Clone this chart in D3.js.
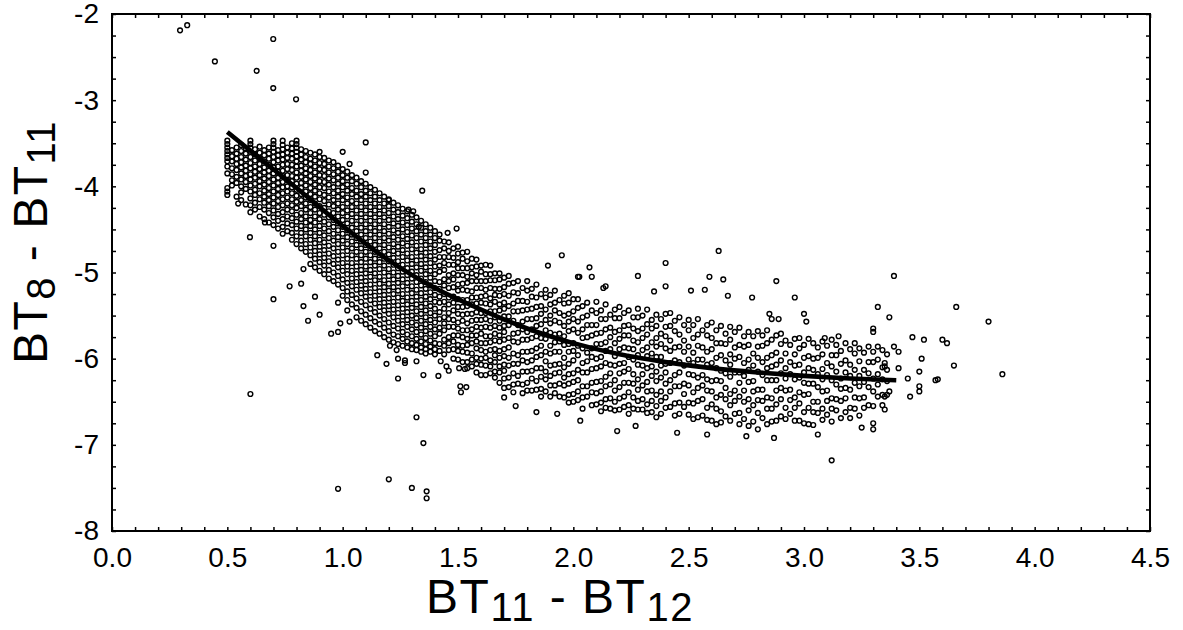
<!DOCTYPE html>
<meta charset="utf-8">
<style>
body { margin: 0; background: #fff; }
svg text { font-family: "Liberation Sans", Arial, sans-serif; fill: #000; }
.frame { fill: none; stroke: #000; stroke-width: 2; }
.tick line { stroke: #000; stroke-width: 1.5; }
.domain { display: none; }
.pt { fill: none; stroke: #000; stroke-width: 1.4; }
.fit { fill: none; stroke: #000; stroke-width: 4.6; stroke-linecap: butt; }
</style>
<svg width="1183" height="630"></svg>
<script src="https://cdn.jsdelivr.net/npm/d3@7"></script>
<script>

// axis ticks
var xMajor = [0, 0.5, 1.0, 1.5, 2.0, 2.5, 3.0, 3.5, 4.0, 4.5];
var yMajor = [-2, -3, -4, -5, -6, -7, -8];

// fitted curve
var fitX = [0.50, 0.80, 1.00, 1.20, 1.40, 1.60, 1.80, 2.00, 2.20, 2.40, 2.60, 2.80, 3.00, 3.20, 3.40];
var fitY = [-3.37, -4.02, -4.46, -4.86, -5.18, -5.43, -5.65, -5.82, -5.95, -6.04, -6.11, -6.16, -6.20, -6.23, -6.25];

// scatter, read column by column: [x, [y values]]
var bandA = [
  [0.50, [-3.47,-3.51,-3.55,-3.59,-3.63,-3.67,-3.71,-3.77,-3.85,-4.02,-4.06,-4.10]],
  [0.52, [-3.58,-3.65,-3.71,-3.79,-3.86,-3.93,-3.99]],
  [0.54, [-3.55,-3.62,-3.68,-3.74,-3.81,-3.89,-3.96,-4.12]],
  [0.56, [-3.52,-3.59,-3.66,-3.72,-3.78,-3.85,-3.92,-4.00,-4.07,-4.16]],
  [0.58, [-3.56,-3.62,-3.69,-3.76,-3.82,-3.88,-3.95,-4.03,-4.21]],
  [0.60, [-3.47,-3.51,-3.55,-3.60,-3.66,-3.73,-3.79,-3.86,-3.92,-3.99,-4.06,-4.14,-4.22,-4.30]],
  [0.62, [-3.57,-3.63,-3.70,-3.77,-3.83,-3.90,-3.97,-4.04,-4.10,-4.19,-4.27]],
  [0.64, [-3.54,-3.61,-3.67,-3.74,-3.80,-3.87,-3.94,-4.00,-4.08,-4.15,-4.24,-4.35]],
  [0.66, [-3.58,-3.64,-3.71,-3.78,-3.84,-3.91,-3.98,-4.05,-4.12,-4.19,-4.27,-4.38]],
  [0.68, [-3.55,-3.62,-3.68,-3.75,-3.82,-3.88,-3.95,-4.02,-4.09,-4.16,-4.23,-4.31,-4.42]],
  [0.70, [-3.47,-3.51,-3.55,-3.60,-3.66,-3.72,-3.78,-3.85,-3.92,-3.99,-4.06,-4.13,-4.20,-4.28,-4.36,-4.45]],
  [0.72, [-3.58,-3.64,-3.70,-3.77,-3.83,-3.90,-3.96,-4.03,-4.10,-4.17,-4.24,-4.32,-4.40,-4.49]],
  [0.74, [-3.47,-3.52,-3.57,-3.63,-3.69,-3.75,-3.82,-3.88,-3.95,-4.01,-4.08,-4.15,-4.22,-4.30,-4.38,-4.47,-4.55]],
  [0.76, [-3.55,-3.61,-3.67,-3.74,-3.80,-3.87,-3.93,-4.00,-4.06,-4.13,-4.20,-4.27,-4.35,-4.43,-4.52]],
  [0.78, [-3.50,-3.56,-3.62,-3.68,-3.75,-3.81,-3.88,-3.94,-4.01,-4.08,-4.15,-4.22,-4.29,-4.37,-4.45,-4.54,-4.62]],
  [0.80, [-3.47,-3.51,-3.55,-3.60,-3.65,-3.71,-3.77,-3.84,-3.90,-3.97,-4.04,-4.11,-4.18,-4.25,-4.33,-4.41,-4.49,-4.58,-4.67]],
  [0.82, [-3.57,-3.63,-3.69,-3.76,-3.82,-3.89,-3.96,-4.02,-4.09,-4.16,-4.23,-4.31,-4.38,-4.46,-4.54,-4.63,-4.72]],
  [0.84, [-3.59,-3.66,-3.72,-3.79,-3.85,-3.92,-3.99,-4.06,-4.13,-4.20,-4.27,-4.35,-4.42,-4.50,-4.58,-4.67,-4.76]],
  [0.86, [-3.61,-3.68,-3.74,-3.81,-3.88,-3.95,-4.02,-4.09,-4.16,-4.24,-4.31,-4.39,-4.46,-4.54,-4.62,-4.71,-4.80,-4.90]],
  [0.88, [-3.63,-3.70,-3.77,-3.84,-3.91,-3.98,-4.05,-4.12,-4.20,-4.27,-4.35,-4.42,-4.50,-4.58,-4.66,-4.75,-4.84,-4.94]],
  [0.90, [-3.60,-3.66,-3.73,-3.80,-3.87,-3.94,-4.01,-4.08,-4.15,-4.23,-4.31,-4.38,-4.46,-4.54,-4.62,-4.70,-4.79,-4.88,-4.98]],
  [0.92, [-3.67,-3.74,-3.81,-3.88,-3.95,-4.02,-4.10,-4.17,-4.25,-4.33,-4.41,-4.49,-4.57,-4.65,-4.74,-4.83,-4.92,-5.02]],
  [0.94, [-3.70,-3.77,-3.84,-3.91,-3.98,-4.06,-4.13,-4.21,-4.29,-4.36,-4.44,-4.52,-4.60,-4.69,-4.78,-4.87,-4.97,-5.07]],
  [0.96, [-3.72,-3.79,-3.86,-3.93,-4.01,-4.08,-4.16,-4.23,-4.31,-4.39,-4.47,-4.55,-4.63,-4.72,-4.81,-4.90,-5.00,-5.10]],
  [0.98, [-3.76,-3.83,-3.90,-3.97,-4.05,-4.12,-4.20,-4.27,-4.35,-4.43,-4.51,-4.59,-4.67,-4.76,-4.85,-4.94,-5.04,-5.14]]
];

var bandB = [
  [1.00, [-3.80,-3.87,-3.94,-4.01,-4.09,-4.16,-4.24,-4.31,-4.39,-4.47,-4.55,-4.63,-4.71,-4.80,-4.89,-4.98,-5.08,-5.18,-5.27]],
  [1.02, [-3.83,-3.90,-3.98,-4.05,-4.13,-4.20,-4.28,-4.35,-4.43,-4.51,-4.59,-4.67,-4.75,-4.84,-4.93,-5.02,-5.12,-5.22,-5.32]],
  [1.04, [-3.87,-3.94,-4.02,-4.09,-4.17,-4.24,-4.32,-4.40,-4.48,-4.56,-4.64,-4.72,-4.80,-4.89,-4.98,-5.07,-5.16,-5.26,-5.37]],
  [1.06, [-3.90,-3.97,-4.05,-4.12,-4.20,-4.28,-4.36,-4.44,-4.52,-4.60,-4.68,-4.76,-4.84,-4.93,-5.02,-5.11,-5.20,-5.30,-5.41,-5.52]],
  [1.08, [-3.94,-4.01,-4.09,-4.16,-4.24,-4.32,-4.40,-4.48,-4.56,-4.64,-4.72,-4.80,-4.88,-4.97,-5.06,-5.15,-5.24,-5.34,-5.45,-5.56]],
  [1.10, [-3.97,-4.05,-4.12,-4.20,-4.28,-4.36,-4.44,-4.52,-4.60,-4.68,-4.76,-4.84,-4.93,-5.01,-5.10,-5.19,-5.28,-5.38,-5.49,-5.60]],
  [1.12, [-4.01,-4.08,-4.16,-4.24,-4.32,-4.40,-4.48,-4.56,-4.64,-4.72,-4.80,-4.88,-4.97,-5.05,-5.14,-5.23,-5.32,-5.42,-5.53,-5.64]],
  [1.14, [-4.04,-4.12,-4.20,-4.28,-4.36,-4.44,-4.52,-4.60,-4.68,-4.76,-4.84,-4.92,-5.01,-5.09,-5.18,-5.27,-5.36,-5.46,-5.57,-5.68]],
  [1.16, [-4.08,-4.16,-4.24,-4.32,-4.40,-4.48,-4.56,-4.64,-4.72,-4.80,-4.88,-4.96,-5.05,-5.13,-5.22,-5.31,-5.40,-5.50,-5.60,-5.71]],
  [1.18, [-4.12,-4.20,-4.28,-4.36,-4.44,-4.52,-4.60,-4.68,-4.76,-4.84,-4.92,-5.00,-5.09,-5.17,-5.26,-5.35,-5.44,-5.54,-5.64,-5.75]],
  [1.20, [-4.15,-4.23,-4.31,-4.39,-4.47,-4.55,-4.63,-4.71,-4.79,-4.87,-4.96,-5.04,-5.13,-5.21,-5.30,-5.39,-5.48,-5.58,-5.68,-5.78]],
  [1.22, [-4.19,-4.27,-4.35,-4.43,-4.51,-4.59,-4.67,-4.75,-4.83,-4.91,-5.00,-5.08,-5.17,-5.25,-5.34,-5.43,-5.52,-5.62,-5.72,-5.81]],
  [1.24, [-4.22,-4.30,-4.38,-4.46,-4.54,-4.62,-4.70,-4.78,-4.87,-4.95,-5.04,-5.12,-5.21,-5.29,-5.38,-5.47,-5.56,-5.65,-5.74,-5.83]],
  [1.26, [-4.26,-4.34,-4.42,-4.50,-4.58,-4.66,-4.74,-4.82,-4.91,-4.99,-5.08,-5.16,-5.25,-5.33,-5.42,-5.51,-5.60,-5.69,-5.77,-5.85]],
  [1.28, [-4.29,-4.37,-4.45,-4.53,-4.61,-4.69,-4.78,-4.86,-4.95,-5.03,-5.12,-5.20,-5.29,-5.37,-5.46,-5.55,-5.63,-5.72,-5.80,-5.87]],
  [1.30, [-4.33,-4.41,-4.49,-4.57,-4.65,-4.73,-4.82,-4.90,-4.99,-5.07,-5.16,-5.24,-5.33,-5.41,-5.50,-5.58,-5.66,-5.74,-5.82,-5.89]],
  [1.32, [-4.36,-4.44,-4.52,-4.60,-4.69,-4.77,-4.86,-4.94,-5.03,-5.11,-5.20,-5.28,-5.37,-5.45,-5.53,-5.61,-5.69,-5.77,-5.84,-5.90]],
  [1.34, [-4.40,-4.48,-4.56,-4.64,-4.73,-4.81,-4.90,-4.98,-5.07,-5.15,-5.24,-5.32,-5.40,-5.48,-5.56,-5.64,-5.72,-5.80,-5.87,-5.92]],
  [1.36, [-4.44,-4.52,-4.60,-4.68,-4.77,-4.85,-4.94,-5.02,-5.11,-5.19,-5.28,-5.36,-5.44,-5.52,-5.60,-5.68,-5.76,-5.83,-5.89,-5.94]],
  [1.38, [-4.48,-4.56,-4.64,-4.72,-4.81,-4.89,-4.98,-5.06,-5.15,-5.23,-5.31,-5.39,-5.47,-5.55,-5.63,-5.71,-5.79,-5.86,-5.92]],
  [1.40, [-4.52,-4.60,-4.68,-4.76,-4.85,-4.93,-5.02,-5.10,-5.18,-5.26,-5.34,-5.42,-5.50,-5.58,-5.66,-5.74,-5.82,-5.89,-5.95]]
];

var bandC = [
  [1.42, [-4.56,-4.63,-4.74,-4.82,-4.92,-4.99,-5.11,-5.19,-5.28,-5.35,-5.46,-5.54,-5.64,-5.71,-5.83,-5.91]],
  [1.44, [-4.64,-4.72,-4.82,-4.89,-4.97,-5.08,-5.15,-5.25,-5.34,-5.42,-5.52,-5.59,-5.67,-5.78,-5.85,-5.95]],
  [1.46, [-4.65,-4.75,-4.82,-4.91,-5.03,-5.10,-5.18,-5.29,-5.37,-5.47,-5.54,-5.63,-5.75,-5.82,-5.90]],
  [1.48, [-4.72,-4.83,-4.91,-5.01,-5.08,-5.17,-5.28,-5.35,-5.44,-5.55,-5.63,-5.73,-5.80,-5.89,-6.00]],
  [1.50, [-4.70,-4.78,-4.88,-4.95,-5.03,-5.14,-5.21,-5.31,-5.40,-5.48,-5.58,-5.65,-5.73,-5.84,-5.91,-6.01]],
  [1.52, [-4.77,-4.84,-4.95,-5.03,-5.13,-5.20,-5.32,-5.40,-5.49,-5.56,-5.67,-5.75,-5.85,-5.92,-6.04]],
  [1.54, [-4.76,-4.87,-4.95,-5.05,-5.12,-5.21,-5.32,-5.39,-5.48,-5.59,-5.67,-5.77,-5.84,-5.93,-6.04,-6.11]],
  [1.56, [-4.84,-4.94,-5.01,-5.10,-5.22,-5.29,-5.37,-5.48,-5.56,-5.66,-5.73,-5.82,-5.94,-6.01,-6.09]],
  [1.58, [-4.85,-4.93,-5.03,-5.10,-5.18,-5.29,-5.36,-5.46,-5.55,-5.63,-5.73,-5.80,-5.88,-5.99,-6.06,-6.16]],
  [1.60, [-4.92,-4.99,-5.10,-5.18,-5.28,-5.35,-5.47,-5.55,-5.64,-5.71,-5.82,-5.90,-6.00,-6.07,-6.19]],
  [1.62, [-4.91,-5.02,-5.10,-5.20,-5.27,-5.36,-5.47,-5.54,-5.63,-5.74,-5.82,-5.92,-5.99,-6.08,-6.19]],
  [1.64, [-4.92,-5.02,-5.09,-5.18,-5.30,-5.37,-5.45,-5.56,-5.64,-5.74,-5.81,-5.90,-6.02,-6.09,-6.17]],
  [1.66, [-5.01,-5.09,-5.19,-5.26,-5.34,-5.45,-5.52,-5.62,-5.71,-5.79,-5.89,-5.96,-6.04,-6.15,-6.22]],
  [1.68, [-5.01,-5.08,-5.19,-5.27,-5.37,-5.44,-5.56,-5.64,-5.73,-5.80,-5.91,-5.99,-6.09,-6.16,-6.28]],
  [1.70, [-5.06,-5.17,-5.25,-5.35,-5.42,-5.51,-5.62,-5.69,-5.78,-5.89,-5.97,-6.07,-6.14,-6.23,-6.34]],
  [1.72, [-5.04,-5.13,-5.27,-5.39,-5.51,-5.61,-5.76,-5.87,-5.99,-6.08,-6.22,-6.33]],
  [1.74, [-5.12,-5.23,-5.36,-5.45,-5.56,-5.71,-5.80,-5.94,-6.06,-6.17,-6.30,-6.39]],
  [1.76, [-5.10,-5.24,-5.33,-5.45,-5.61,-5.70,-5.81,-5.96,-6.06,-6.20,-6.29]],
  [1.78, [-5.18,-5.33,-5.44,-5.57,-5.66,-5.78,-5.92,-6.02,-6.15,-6.30,-6.40]],
  [1.80, [-5.10,-5.21,-5.34,-5.43,-5.54,-5.69,-5.78,-5.92,-6.04,-6.15,-6.28,-6.37]],
  [1.82, [-5.19,-5.28,-5.42,-5.54,-5.66,-5.76,-5.91,-6.02,-6.14,-6.23,-6.37]],
  [1.84, [-5.14,-5.29,-5.40,-5.53,-5.62,-5.74,-5.88,-5.98,-6.11,-6.26,-6.36]],
  [1.86, [-5.25,-5.39,-5.48,-5.60,-5.76,-5.85,-5.96,-6.11,-6.21,-6.35,-6.44]],
  [1.88, [-5.20,-5.29,-5.43,-5.55,-5.67,-5.77,-5.92,-6.03,-6.15,-6.24,-6.38]],
  [1.90, [-5.26,-5.37,-5.50,-5.59,-5.70,-5.85,-5.94,-6.08,-6.20,-6.31,-6.44]],
  [1.92, [-5.21,-5.35,-5.44,-5.56,-5.72,-5.81,-5.92,-6.07,-6.17,-6.31,-6.40]],
  [1.94, [-5.32,-5.47,-5.58,-5.71,-5.80,-5.92,-6.06,-6.16,-6.29,-6.44]],
  [1.96, [-5.27,-5.36,-5.50,-5.62,-5.74,-5.84,-5.99,-6.10,-6.22,-6.31,-6.45]],
  [1.98, [-5.24,-5.35,-5.48,-5.57,-5.68,-5.83,-5.92,-6.06,-6.18,-6.29,-6.42,-6.51]],
  [2.00, [-5.31,-5.45,-5.54,-5.66,-5.82,-5.91,-6.02,-6.17,-6.27,-6.41,-6.50]]
];

var bandD = [
  [2.02, [-5.31,-5.41,-5.57,-5.70,-5.85,-5.96,-6.13,-6.25,-6.38,-6.48]],
  [2.04, [-5.39,-5.52,-5.66,-5.76,-5.88,-6.05,-6.16,-6.32,-6.45,-6.58]],
  [2.06, [-5.35,-5.50,-5.61,-5.75,-5.93,-6.03,-6.16,-6.32,-6.44]],
  [2.08, [-5.44,-5.61,-5.73,-5.88,-5.98,-6.12,-6.28,-6.39,-6.54]],
  [2.10, [-5.34,-5.47,-5.61,-5.71,-5.83,-6.00,-6.11,-6.27,-6.40,-6.53]],
  [2.12, [-5.44,-5.54,-5.70,-5.83,-5.98,-6.09,-6.26,-6.38,-6.51,-6.61]],
  [2.14, [-5.37,-5.54,-5.66,-5.81,-5.91,-6.05,-6.21,-6.32,-6.47,-6.57]],
  [2.16, [-5.49,-5.64,-5.75,-5.89,-6.07,-6.17,-6.30,-6.46,-6.58]],
  [2.18, [-5.43,-5.53,-5.69,-5.82,-5.97,-6.08,-6.25,-6.37,-6.50,-6.60]],
  [2.20, [-5.40,-5.53,-5.67,-5.77,-5.89,-6.06,-6.17,-6.33,-6.46,-6.59]],
  [2.22, [-5.47,-5.62,-5.73,-5.87,-6.05,-6.15,-6.28,-6.44,-6.56]],
  [2.24, [-5.44,-5.61,-5.73,-5.88,-5.98,-6.12,-6.28,-6.39,-6.54,-6.64]],
  [2.26, [-5.52,-5.65,-5.79,-5.89,-6.01,-6.18,-6.29,-6.45,-6.58]],
  [2.28, [-5.42,-5.52,-5.68,-5.81,-5.96,-6.07,-6.24,-6.36,-6.49,-6.59]],
  [2.30, [-5.50,-5.65,-5.76,-5.90,-6.08,-6.18,-6.31,-6.47,-6.59]],
  [2.32, [-5.43,-5.60,-5.72,-5.87,-5.97,-6.11,-6.27,-6.38,-6.53,-6.63]],
  [2.34, [-5.55,-5.65,-5.81,-5.94,-6.09,-6.20,-6.37,-6.49,-6.62]],
  [2.36, [-5.49,-5.62,-5.76,-5.86,-5.98,-6.15,-6.26,-6.42,-6.55,-6.68]],
  [2.38, [-5.54,-5.71,-5.83,-5.98,-6.08,-6.22,-6.38,-6.49,-6.64]],
  [2.40, [-5.48,-5.63,-5.74,-5.88,-6.06,-6.16,-6.29,-6.45,-6.57]]
];

var bandE = [
  [2.42, [-5.47,-5.62,-5.79,-5.91,-6.05,-6.25,-6.38,-6.56]],
  [2.44, [-5.56,-5.68,-5.87,-6.02,-6.19,-6.32,-6.52,-6.66]],
  [2.46, [-5.52,-5.72,-5.86,-6.04,-6.16,-6.32,-6.51,-6.64]],
  [2.48, [-5.61,-5.79,-5.92,-6.08,-6.29,-6.41,-6.56]],
  [2.50, [-5.55,-5.67,-5.86,-6.01,-6.18,-6.31,-6.51,-6.65]],
  [2.52, [-5.61,-5.76,-5.93,-6.05,-6.19,-6.39,-6.52,-6.70]],
  [2.54, [-5.54,-5.72,-5.85,-6.01,-6.22,-6.34,-6.49,-6.68]],
  [2.56, [-5.67,-5.87,-6.01,-6.19,-6.31,-6.47,-6.66]],
  [2.58, [-5.61,-5.73,-5.92,-6.07,-6.24,-6.37,-6.57,-6.71]],
  [2.60, [-5.58,-5.76,-5.89,-6.05,-6.26,-6.38,-6.53,-6.72]],
  [2.62, [-5.67,-5.82,-5.99,-6.11,-6.25,-6.45,-6.58,-6.76]],
  [2.64, [-5.62,-5.82,-5.96,-6.14,-6.26,-6.42,-6.61,-6.74]],
  [2.66, [-5.71,-5.83,-6.02,-6.17,-6.34,-6.47,-6.67]],
  [2.68, [-5.63,-5.78,-5.95,-6.07,-6.21,-6.41,-6.54,-6.72]],
  [2.70, [-5.69,-5.87,-6.00,-6.16,-6.37,-6.49,-6.64]],
  [2.72, [-5.64,-5.84,-5.98,-6.16,-6.28,-6.44,-6.63,-6.76]],
  [2.74, [-5.74,-5.86,-6.05,-6.20,-6.37,-6.50,-6.70]],
  [2.76, [-5.69,-5.84,-6.01,-6.13,-6.27,-6.47,-6.60,-6.78]],
  [2.78, [-5.74,-5.94,-6.08,-6.26,-6.38,-6.54,-6.73]],
  [2.80, [-5.68,-5.86,-5.99,-6.15,-6.36,-6.48,-6.63,-6.82]],
  [2.82, [-5.73,-5.85,-6.04,-6.19,-6.36,-6.49,-6.69]],
  [2.84, [-5.67,-5.82,-5.99,-6.11,-6.25,-6.45,-6.58,-6.76]],
  [2.86, [-5.78,-5.96,-6.09,-6.25,-6.46,-6.58,-6.73]],
  [2.88, [-5.73,-5.93,-6.07,-6.25,-6.37,-6.53,-6.72]],
  [2.90, [-5.71,-5.83,-6.02,-6.17,-6.34,-6.47,-6.67]],
  [2.92, [-5.79,-5.94,-6.11,-6.23,-6.37,-6.57,-6.70]],
  [2.94, [-5.84,-6.04,-6.18,-6.36,-6.48,-6.64]],
  [2.96, [-5.77,-5.95,-6.08,-6.24,-6.45,-6.57,-6.72]],
  [2.98, [-5.76,-5.88,-6.07,-6.22,-6.39,-6.52,-6.72]],
  [3.00, [-5.84,-5.99,-6.16,-6.28,-6.42,-6.62,-6.75]],
  [3.02, [-5.77,-5.97,-6.11,-6.29,-6.41,-6.57,-6.76]],
  [3.04, [-5.82,-6.00,-6.13,-6.29,-6.50,-6.62,-6.77]],
  [3.06, [-5.87,-5.99,-6.18,-6.33,-6.50,-6.63]],
  [3.08, [-5.80,-5.95,-6.12,-6.24,-6.38,-6.58,-6.71]],
  [3.10, [-5.85,-6.05,-6.19,-6.37,-6.49,-6.65]],
  [3.12, [-5.78,-5.96,-6.09,-6.25,-6.46,-6.58,-6.73]],
  [3.14, [-5.84,-5.96,-6.15,-6.30,-6.47,-6.60]],
  [3.16, [-5.91,-6.06,-6.23,-6.35,-6.49,-6.69]],
  [3.18, [-5.82,-6.02,-6.16,-6.34,-6.46,-6.62]],
  [3.20, [-5.89,-6.07,-6.20,-6.36,-6.57,-6.69]],
  [3.22, [-5.82,-5.94,-6.13,-6.28,-6.45,-6.58]],
  [3.24, [-5.88,-6.03,-6.20,-6.32,-6.46,-6.66]],
  [3.26, [-5.93,-6.13,-6.27,-6.45,-6.57]],
  [3.28, [-5.86,-6.04,-6.17,-6.33,-6.54]],
  [3.30, [-5.92,-6.04,-6.23,-6.38,-6.55]],
  [3.32, [-5.86,-6.01,-6.18,-6.30,-6.44]],
  [3.34, [-5.90,-6.10,-6.24,-6.42,-6.54]],
  [3.36, [-5.95,-6.13,-6.26,-6.42]]
];

// scattered points outside the main band
var strayX = [0.295,0.326,0.446,0.627,0.699,0.699,0.798,
  1.00,1.03,1.10,1.10,1.20,1.285,1.306,1.33,1.345,1.455,1.494,
  1.89,1.95,2.02,2.026,2.07,2.08,2.13,2.14,2.28,2.35,2.40,2.40,2.51,2.57,2.59,2.63,2.65,2.67,2.775,2.85,2.86,2.88,2.89,2.96,3.00,3.01,3.09,3.15,3.30,3.30,3.32,3.37,3.39,
  3.39,3.41,3.41,3.35,3.35,3.45,3.46,3.47,3.50,3.50,3.50,3.51,3.52,3.57,3.58,3.60,3.62,3.65,3.66,3.80,3.86,3.35,3.37,3.35,3.30,3.30,
  0.547,0.598,0.70,0.663,0.83,0.77,0.82,0.70,0.83,0.85,0.88,0.90,0.95,0.98,0.98,0.99,1.03,1.02,0.60,
  1.15,1.19,1.24,1.205,1.234,1.24,1.27,1.27,1.32,1.35,1.415,1.425,1.45,1.46,1.53,1.505,1.51,1.536,1.513,
  1.32,1.35,1.20,0.98,1.30,1.364,1.364,3.12,
  1.70,1.75,1.84,1.93,2.03,2.19,2.27,2.45,2.58,2.75,2.87,3.06,3.25];
var strayY = [-2.19,-2.13,-2.55,-2.66,-2.29,-2.86,-2.99,
  -3.60,-3.74,-3.49,-3.84,-4.16,-4.27,-4.29,-4.47,-4.05,-4.54,-4.49,
  -4.92,-4.80,-5.05,-5.05,-4.94,-5.05,-5.18,-5.16,-5.04,-5.22,-4.89,-5.16,-5.21,-5.20,-5.05,-4.75,-5.08,-5.27,-5.29,-5.48,-5.54,-5.10,-5.54,-5.29,-5.48,-5.57,-5.76,-5.74,-5.65,-5.69,-5.40,-5.52,-5.04,
  -5.86,-5.92,-6.11,-6.05,-6.09,-6.23,-6.44,-5.75,-6.15,-6.32,-6.38,-6.00,-5.78,-6.25,-6.24,-5.78,-5.82,-6.08,-5.40,-5.57,-6.18,-6.59,-6.38,-6.44,-6.75,-6.82,
  -4.20,-4.59,-4.69,-4.42,-4.96,-5.16,-5.13,-5.31,-5.39,-5.56,-5.28,-5.49,-5.71,-5.69,-5.35,-5.59,-5.57,-5.44,-6.41,
  -5.96,-6.06,-6.23,-5.85,-5.90,-6.00,-6.02,-6.05,-6.03,-6.19,-6.20,-6.03,-6.09,-6.14,-6.12,-6.11,-6.32,-6.33,-6.39,
  -6.68,-6.98,-7.40,-7.51,-7.50,-7.54,-7.62,-7.18,
  -6.45,-6.55,-6.62,-6.64,-6.72,-6.84,-6.78,-6.86,-6.88,-6.90,-6.92,-6.88,-6.80];

var svg = d3.select("svg");
var plotL = 112, plotR = 1150, plotT = 14, plotB = 531;

var x = d3.scaleLinear().domain([0, 4.5]).range([plotL, plotR]);
var y = d3.scaleLinear().domain([-8, -2]).range([plotB, plotT]);

var xMinor = d3.range(0, 46).map(function(i) { return i / 10; });
var yMinor = d3.range(0, 25).map(function(i) { return -2 - i / 4; });

// frame
svg.append("rect").attr("class", "frame")
    .attr("x", plotL).attr("y", plotT)
    .attr("width", plotR - plotL).attr("height", plotB - plotT);

// inward ticks on all four sides
svg.append("g").attr("transform", "translate(0," + plotB + ")")
    .call(d3.axisBottom(x).tickValues(xMinor).tickSize(-4).tickFormat(""));
svg.append("g").attr("transform", "translate(0," + plotT + ")")
    .call(d3.axisTop(x).tickValues(xMinor).tickSize(-4).tickFormat(""));
svg.append("g").attr("transform", "translate(" + plotL + ",0)")
    .call(d3.axisLeft(y).tickValues(yMinor).tickSize(-4).tickFormat(""));
svg.append("g").attr("transform", "translate(" + plotR + ",0)")
    .call(d3.axisRight(y).tickValues(yMinor).tickSize(-4).tickFormat(""));

// labels
svg.append("g").attr("transform", "translate(0," + plotB + ")")
    .call(d3.axisBottom(x).tickValues(xMajor).tickSize(0).tickPadding(16)
      .tickFormat(function(d) { return d.toFixed(1); }));
svg.append("g").attr("transform", "translate(" + plotL + ",0)")
    .call(d3.axisLeft(y).tickValues(yMajor).tickSize(0).tickPadding(13)
      .tickFormat(function(d) { return String(d); }));
svg.selectAll(".tick text").attr("font-size", 28)
    .attr("font-family", "Liberation Sans, Arial, sans-serif").attr("fill", "#000");

// points
var pts = [];
[bandA, bandB, bandC, bandD, bandE].forEach(function(band) {
  band.forEach(function(col) {
    col[1].forEach(function(v) { pts.push([col[0], v]); });
  });
});
strayX.forEach(function(v, i) { pts.push([v, strayY[i]]); });

svg.append("g").selectAll("circle")
    .data(pts)
  .enter().append("circle")
    .attr("class", "pt")
    .attr("cx", function(d) { return x(d[0]); })
    .attr("cy", function(d) { return y(d[1]); })
    .attr("r", 2.4);

// fitted curve
var line = d3.line()
    .x(function(d) { return x(d[0]); })
    .y(function(d) { return y(d[1]); })
    .curve(d3.curveMonotoneX);
svg.append("path").attr("class", "fit")
    .attr("d", line(fitX.map(function(v, i) { return [v, fitY[i]]; })));

// axis titles
var xt = svg.append("text").attr("x", 560).attr("y", 613)
    .attr("text-anchor", "middle").attr("font-size", 48).attr("letter-spacing", 1.5);
xt.append("tspan").text("BT");
xt.append("tspan").attr("font-size", 40).attr("dy", 8).text("11");
xt.append("tspan").attr("dy", -8).text(" - BT");
xt.append("tspan").attr("font-size", 40).attr("dy", 8).text("12");

var yt = svg.append("text").attr("transform", "translate(47,242) rotate(-90)")
    .attr("text-anchor", "middle").attr("font-size", 48).attr("letter-spacing", 1.5);
yt.append("tspan").text("BT");
yt.append("tspan").attr("font-size", 40).attr("dy", 8).text("8");
yt.append("tspan").attr("dy", -8).text(" - BT");
yt.append("tspan").attr("font-size", 40).attr("dy", 8).text("11");

</script>
